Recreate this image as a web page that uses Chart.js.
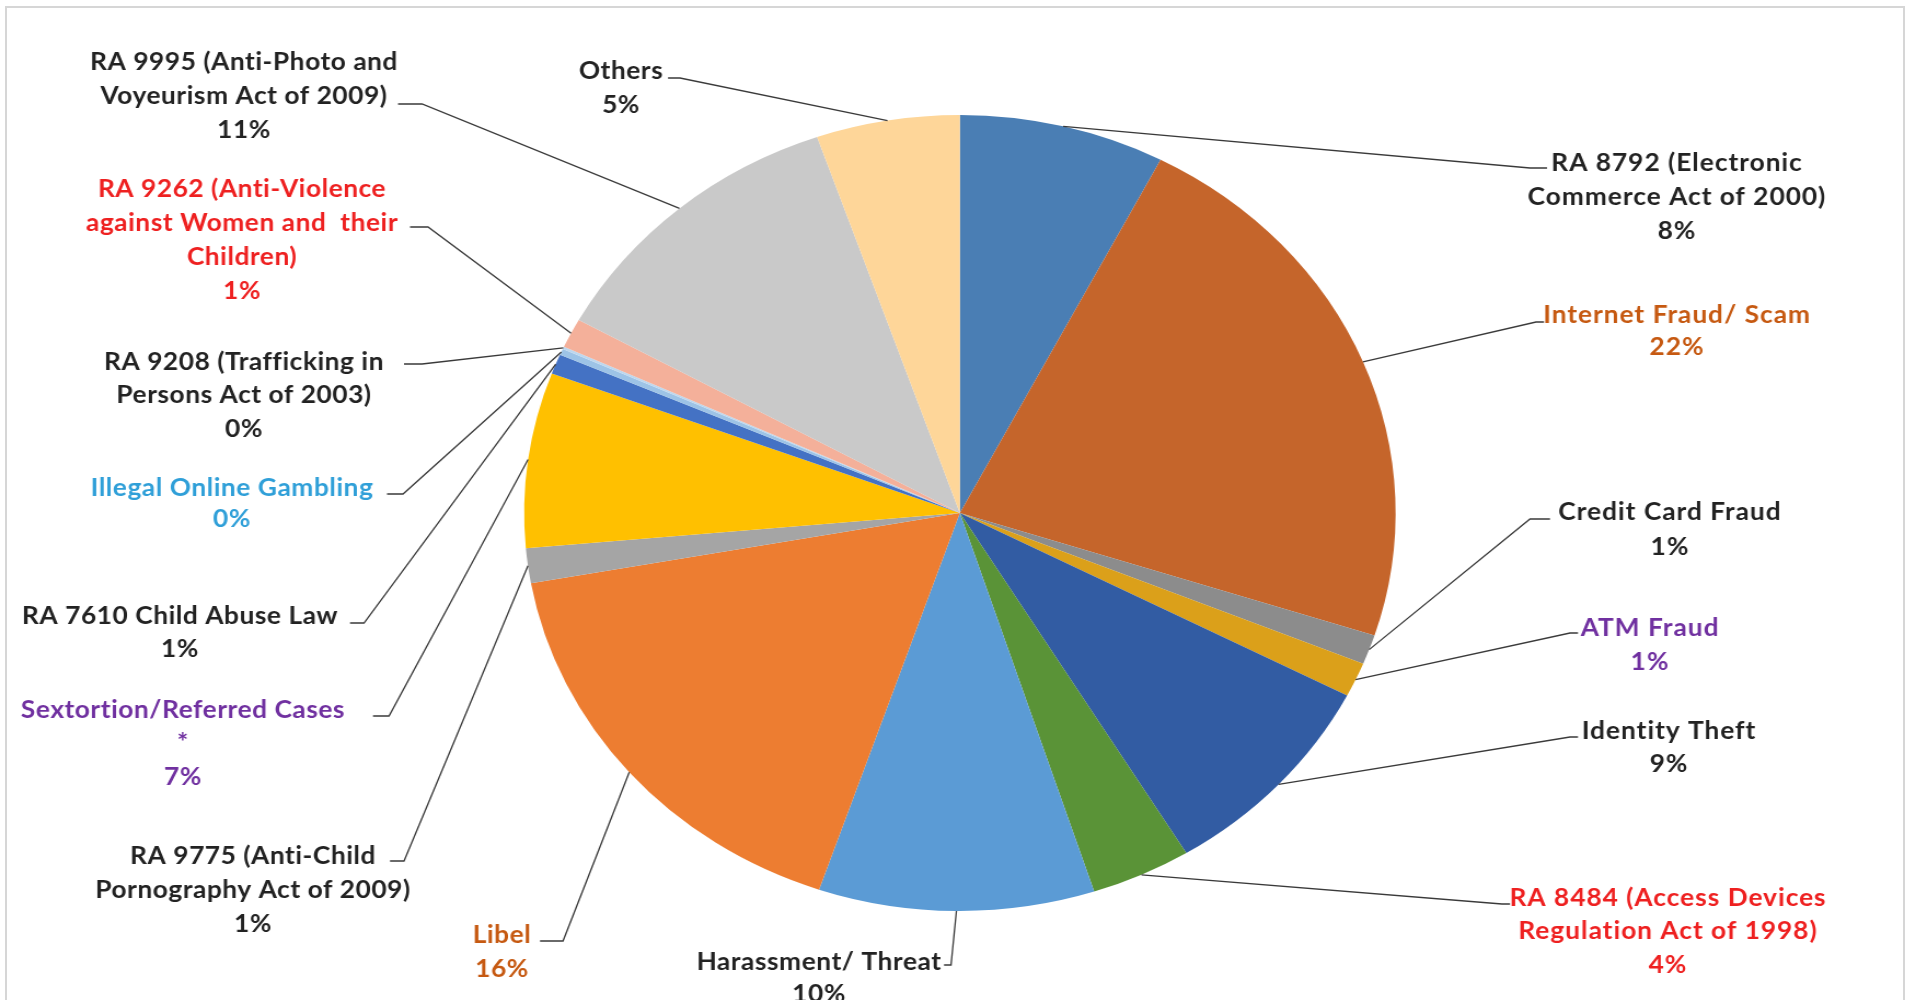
<!DOCTYPE html>
<html>
<head>
<meta charset="utf-8">
<script src="https://cdn.jsdelivr.net/npm/chart.js@4.4.1/dist/chart.umd.min.js"></script>
<style>
  html, body { margin: 0; padding: 0; background: #ffffff; overflow: hidden; width: 1916px; height: 1000px; }
  #frame { position: absolute; left: 5px; top: 6px; width: 1900px; height: 1100px; border: 2px solid #d6d6d6; box-sizing: border-box; }
  #wrap { position: absolute; left: 0; top: 0; width: 1750px; height: 1000px; transform: scaleX(1.09486); transform-origin: 0 0; }
</style>
</head>
<body>
<div id="frame"></div>
<div id="wrap"><canvas id="c" width="1750" height="1000"></canvas></div>
<script>
// ---- data ----
const categories = [
  "RA 8792 (Electronic\nCommerce Act of 2000)",
  "Internet Fraud/ Scam",
  "Credit Card Fraud",
  "ATM Fraud",
  "Identity Theft",
  "RA 8484 (Access Devices\nRegulation Act of 1998)",
  "Harassment/ Threat",
  "Libel",
  "RA 9775 (Anti-Child\nPornography Act of 2009)",
  "Sextortion/Referred Cases\n*",
  "RA 7610 Child Abuse Law",
  "Illegal Online Gambling",
  "RA 9208 (Trafficking in\nPersons Act of 2003)",
  "RA 9262 (Anti-Violence\nagainst Women and  their\nChildren)",
  "RA 9995 (Anti-Photo and\nVoyeurism Act of 2009)",
  "Others"
];
const shares = [7.6, 22.3, 1.2, 1.4, 8.7, 3.7, 10.2, 16.9, 1.4, 7.1, 0.8, 0.25, 0.1, 1.2, 11.6, 5.3];
const percentLabels = ["8%", "22%", "1%", "1%", "9%", "4%", "10%", "16%", "1%", "7%", "1%", "0%", "0%", "1%", "11%", "5%"];

// ---- styles ----
const sliceColors = ["#4a7eb4", "#c5652b", "#8c8c8c", "#dba01a", "#325ca3", "#5a9337", "#5b9bd5", "#ed7d31",
                     "#a5a5a5", "#ffc000", "#4472c4", "#9dc3e6", "#bdd7ee", "#f4b09a", "#c9c9c9", "#fed699"];
const textColors = ["#222222", "#c65911", "#222222", "#7030a0", "#222222", "#ee2020", "#222222", "#c65911",
                    "#222222", "#7030a0", "#222222", "#2f9fd8", "#222222", "#ee2020", "#222222", "#222222"];

const SX = 1916 / 1750;
// label layout in page pixels: text center x, line y's, leader anchor (ax, ay), tail end x
const layout = [
  {cx: 1677, y0: 163, lh: 34, ax: 1530, ay: 168, tx: 1547},
  {cx: 1677, y0: 315, lh: 32, ax: 1536, ay: 322, tx: 1544},
  {cx: 1670, y0: 512, lh: 35, ax: 1530, ay: 519, tx: 1550},
  {cx: 1650, y0: 628, lh: 34, ax: 1570, ay: 633, tx: 1578},
  {cx: 1669, y0: 731, lh: 33, ax: 1570, ay: 737, tx: 1578},
  {cx: 1668, y0: 898, lh: 33.5, ax: 1502, ay: 904, tx: 1510},
  {cx: 819,  y0: 962, lh: 32, ax: 951, ay: 965, tx: 944},
  {cx: 502,  y0: 935, lh: 34, ax: 563, ay: 941, tx: 540},
  {cx: 253,  y0: 856, lh: 34, ax: 404, ay: 861, tx: 390},
  {cx: 183,  y0: 710, lh: 33.5, ax: 389, ay: 716, tx: 373},
  {cx: 180,  y0: 616, lh: 33, ax: 364, ay: 623, tx: 350},
  {cx: 232,  y0: 488, lh: 31, ax: 403, ay: 494, tx: 387},
  {cx: 244,  y0: 362, lh: 33.5, ax: 422, ay: 364, tx: 404},
  {cx: 242,  y0: 189, lh: 34, ax: 428, ay: 227, tx: 410},
  {cx: 244,  y0: 62,  lh: 34, ax: 422, ay: 104, tx: 398},
  {cx: 621,  y0: 71,  lh: 34, ax: 680, ay: 78,  tx: 668}
];

const labelPlugin = {
  id: 'calloutLabels',
  afterDraw(chart) {
    const ctx = chart.ctx;
    const meta = chart.getDatasetMeta(0);
    ctx.save();
    meta.data.forEach((arc, i) => {
      const p = arc.getProps(['x', 'y', 'startAngle', 'endAngle', 'outerRadius'], true);
      const mid = (p.startAngle + p.endAngle) / 2;
      const ex = p.x + Math.cos(mid) * p.outerRadius;
      const ey = p.y + Math.sin(mid) * p.outerRadius;
      const L = layout[i];
      ctx.strokeStyle = '#3a3a3a';
      ctx.lineWidth = 1.3;
      ctx.beginPath();
      ctx.moveTo(ex, ey);
      ctx.lineTo(L.ax / SX, L.ay);
      ctx.lineTo(L.tx / SX, L.ay);
      ctx.stroke();
      const lines = categories[i].split('\n').concat([percentLabels[i]]);
      ctx.fillStyle = textColors[i];
      ctx.font = 'bold 24px Lato';
      ctx.letterSpacing = (L.cx > 960 ? 0.9 : 0.5) + 'px';
      ctx.textAlign = 'center';
      ctx.textBaseline = 'middle';
      lines.forEach((t, k) => ctx.fillText(t, L.cx / SX, L.y0 + k * L.lh));
    });
    ctx.restore();
  }
};

new Chart(document.getElementById('c'), {
  type: 'pie',
  data: {
    labels: categories,
    datasets: [{ data: shares, backgroundColor: sliceColors, borderWidth: 0 }]
  },
  options: {
    responsive: false,
    animation: false,
    layout: { padding: { top: 115, bottom: 89, left: 478.7, right: 475.3 } },
    plugins: { legend: { display: false }, tooltip: { enabled: false } }
  },
  plugins: [labelPlugin]
});
</script>
</body>
</html>
